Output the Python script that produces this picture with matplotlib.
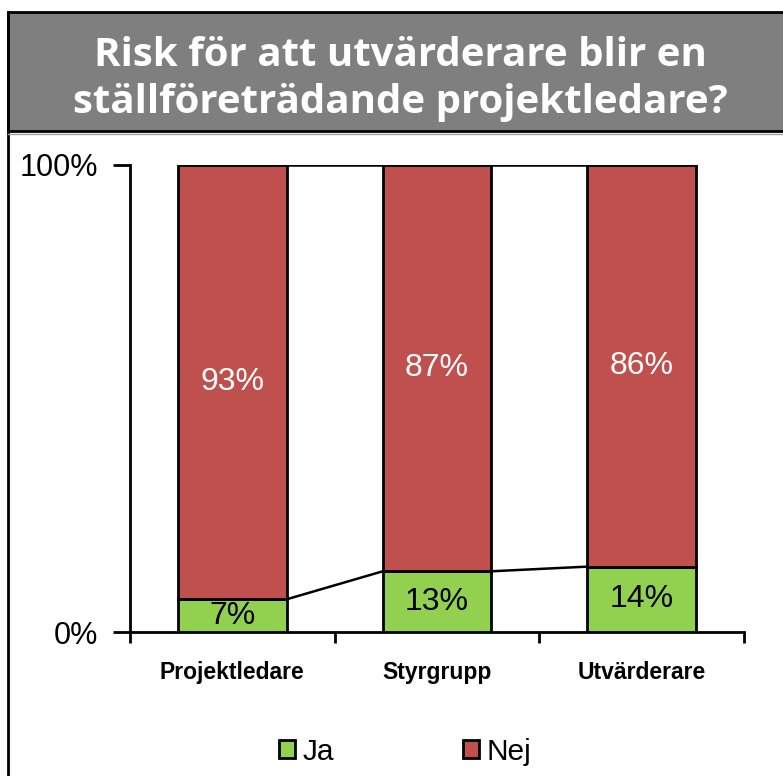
import matplotlib
matplotlib.use("Agg")
import matplotlib.pyplot as plt
from matplotlib.patches import Rectangle, Patch
from matplotlib.lines import Line2D
import numpy as np

categories = ["Projektledare", "Styrgrupp", "Utvärderare"]
ja = [7, 13, 14]
nej = [93, 87, 86]
series_names = ["Ja", "Nej"]
ytick_vals = [0, 100]
ytick_labels = ["0%", "100%"]
title = "Risk för att utvärderare blir en\nställföreträdande projektledare?"

GREEN = "#92D050"
RED = "#C0504D"
W, H = 783, 776

fig = plt.figure(figsize=(W / 100, H / 100), dpi=100)
fig.patch.set_facecolor("white")

# Title box
fig.add_artist(Rectangle((8 / W, 1 - 131 / H), 1.0, 119 / H, transform=fig.transFigure,
                         facecolor="#7F7F7F", edgecolor="black", linewidth=2, zorder=1))
fig.add_artist(Line2D([8 / W, 8 / W], [0, 1 - 12 / H], transform=fig.transFigure,
                      color="black", linewidth=2))
fig.add_artist(Line2D([8 / W, 1], [1 - 133.5 / H, 1 - 133.5 / H], transform=fig.transFigure,
                      color="#A0A0A0", linewidth=1))
fig.text(400 / W, 1 - 79 / H, title, ha="center", va="center", color="white",
         fontsize=29, fontweight="bold", family="Open Sans", linespacing=1.3)

ax = fig.add_axes([130 / W, 1 - 632 / H, 614 / W, 467 / H])
x = np.arange(len(categories))
bw = 0.53
ja_arr = np.array(ja, dtype=float)
nej_arr = np.array(nej, dtype=float)
ax.bar(x, ja_arr, width=bw, color=GREEN, edgecolor="black", linewidth=2, zorder=3)
ax.bar(x, nej_arr, bottom=ja_arr, width=bw, color=RED, edgecolor="black", linewidth=2, zorder=3)

# series lines
tops = ja_arr + nej_arr
for i in range(len(x) - 1):
    ax.plot([x[i] + bw / 2, x[i + 1] - bw / 2], [ja_arr[i], ja_arr[i + 1]], color="black", lw=1.8, zorder=2)
    ax.plot([x[i] + bw / 2, x[i + 1] - bw / 2], [tops[i], tops[i + 1]], color="black", lw=1.8, zorder=2)

for i in range(len(x)):
    ax.text(x[i], ja_arr[i] / 2, f"{ja[i]}%", ha="center", va="center", color="black",
            fontsize=23, family="Liberation Sans", zorder=4)
    ax.text(x[i], ja_arr[i] + nej_arr[i] / 2, f"{nej[i]}%", ha="center", va="center", color="white",
            fontsize=23, family="Liberation Sans", zorder=4)

ax.set_xlim(-0.5, len(categories) - 0.5)
ax.set_ylim(0, 100)
for s in ["top", "right"]:
    ax.spines[s].set_visible(False)
for s in ["left", "bottom"]:
    ax.spines[s].set_linewidth(2)
ax.set_xticks(x)
ax.set_xticklabels(categories, fontsize=16.5, fontweight="bold", family="Liberation Sans")
ax.set_xticks(np.arange(len(categories) + 1) - 0.5, minor=True)
ax.tick_params(axis="x", which="major", length=0, pad=21)
ax.tick_params(axis="x", which="minor", length=8, width=2, direction="out")
ax.set_yticks(ytick_vals)
ax.set_yticklabels(ytick_labels, fontsize=22, family="Liberation Sans")
ax.tick_params(axis="y", length=12, width=2, direction="out", pad=11)

handles = [Patch(facecolor=GREEN, edgecolor="black", linewidth=2),
           Patch(facecolor=RED, edgecolor="black", linewidth=2)]
fig.legend(handles, series_names, loc="center", bbox_to_anchor=(405 / W, 1 - 752 / H), ncol=2,
           frameon=False, prop={"family": "Liberation Sans", "size": 21.5},
           handlelength=0.55, handleheight=0.55, handletextpad=0.25, columnspacing=4.3)

fig.savefig("out.png", dpi=100)
